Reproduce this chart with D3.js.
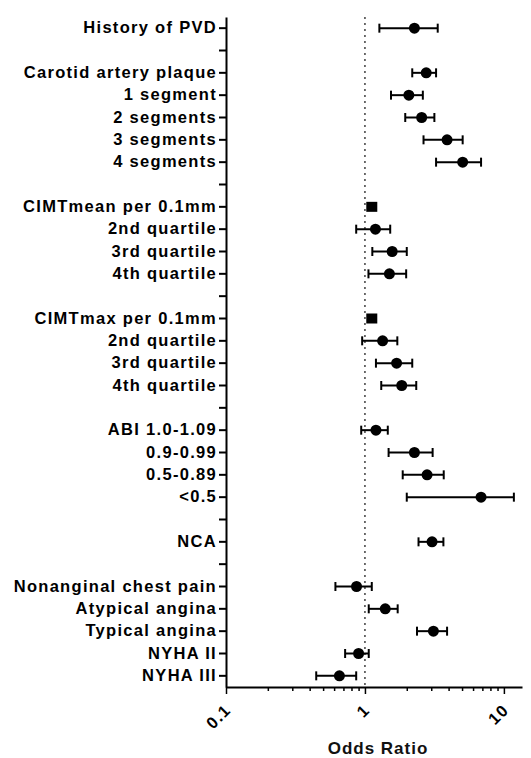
<!DOCTYPE html>
<html>
<head>
<meta charset="utf-8">
<script src="https://cdn.jsdelivr.net/npm/d3@7"></script>
<style>
  body { margin: 0; background: #fff; }
  svg { display: block; font-family: "Liberation Sans", Arial, sans-serif; }
</style>
</head>
<body>
<svg id="chart" width="531" height="758"></svg>
<script>
// rows from top to bottom, "" = spacer row (tick only)
var labels = ["History of PVD", "",
  "Carotid artery plaque", "1 segment", "2 segments", "3 segments", "4 segments", "",
  "CIMTmean per 0.1mm", "2nd quartile", "3rd quartile", "4th quartile", "",
  "CIMTmax per 0.1mm", "2nd quartile", "3rd quartile", "4th quartile", "",
  "ABI 1.0-1.09", "0.9-0.99", "0.5-0.89", "<0.5", "",
  "NCA", "",
  "Nonanginal chest pain", "Atypical angina", "Typical angina", "NYHA II", "NYHA III"]
var oddsRatio = [2.27, null, 2.76, 2.07, 2.56, 3.90, 5.05, null,
  1.12, 1.19, 1.57, 1.50, null,
  1.12, 1.34, 1.69, 1.84, null,
  1.20, 2.27, 2.80, 6.85, null,
  3.04, null,
  0.87, 1.40, 3.11, 0.90, 0.655]
var ciLow = [1.27, null, 2.19, 1.54, 1.95, 2.64, 3.25, null,
  1.10, 0.865, 1.13, 1.06, null,
  1.10, 0.955, 1.20, 1.31, null,
  0.94, 1.48, 1.87, 2.0, null,
  2.43, null,
  0.613, 1.065, 2.37, 0.72, 0.446]
var ciHigh = [3.34, null, 3.25, 2.61, 3.16, 5.05, 6.85, null,
  1.14, 1.52, 2.0, 1.98, null,
  1.14, 1.71, 2.19, 2.34, null,
  1.46, 3.07, 3.69, 11.8, null,
  3.67, null,
  1.12, 1.72, 3.90, 1.065, 0.865]
var markerShape = ["circle", null, "circle", "circle", "circle", "circle", "circle", null,
  "square", "circle", "circle", "circle", null,
  "square", "circle", "circle", "circle", null,
  "circle", "circle", "circle", "circle", null,
  "circle", null,
  "circle", "circle", "circle", "circle", "circle"]
var xTickLabels = [0.1, 1, 10]

var svg = d3.select("#chart")
var plotLeft = 226, plotRight = 522, plotTop = 17, plotBottom = 687
var fontFam = '"Liberation Sans", Arial, sans-serif'

var x = d3.scaleLog().domain([0.1, 13.5]).range([plotLeft, plotRight])
var y = d3.scaleBand().domain(d3.range(labels.length)).range([plotTop, plotBottom])
var yc = function(i){ return y(i) + y.bandwidth() / 2 }

var rows = labels.map(function(l, i){
  return {label: l, or: oddsRatio[i], lo: ciLow[i], hi: ciHigh[i], shape: markerShape[i], i: i}
}).filter(function(d){ return d.or != null })

// reference line at OR = 1
svg.append("line")
  .attr("x1", x(1)).attr("x2", x(1))
  .attr("y1", plotTop).attr("y2", plotBottom)
  .attr("stroke", "#333").attr("stroke-width", 1.4)
  .attr("stroke-dasharray", "2,4")

// y axis
var yAxis = svg.append("g")
  .attr("transform", "translate(" + plotLeft + ",0)")
  .call(d3.axisLeft(y).tickSize(7).tickSizeOuter(0).tickPadding(2)
    .tickFormat(function(i){ return labels[i] }))
yAxis.attr("font-family", fontFam)
yAxis.select(".domain").attr("stroke", "#000").attr("stroke-width", 2)
yAxis.selectAll(".tick line").attr("stroke", "#000").attr("stroke-width", 2)
yAxis.selectAll(".tick text")
  .attr("fill", "#000")
  .style("font-size", "16.5px")
  .style("font-weight", "bold")
  .style("letter-spacing", "1.3px")

// x axis
var xAxis = svg.append("g")
  .attr("transform", "translate(0," + plotBottom + ")")
  .call(d3.axisBottom(x).tickSizeOuter(0).tickFormat(""))
xAxis.select(".domain").attr("stroke", "#000").attr("stroke-width", 2)
xAxis.selectAll(".tick line")
  .attr("stroke", "#000").attr("stroke-width", 1.5)
  .attr("y2", function(d){ return xTickLabels.indexOf(d) >= 0 ? 7 : 4 })

svg.append("g").selectAll("text")
  .data(xTickLabels).enter()
  .append("text")
  .attr("text-anchor", "end")
  .attr("transform", function(d){ return "translate(" + (x(d) + 6) + "," + (plotBottom + 24) + ") rotate(-45)" })
  .style("font-size", "16.5px")
  .style("font-weight", "bold")
  .style("letter-spacing", "1.3px")
  .text(function(d){ return d })

svg.append("text")
  .attr("x", 378).attr("y", 754)
  .attr("text-anchor", "middle")
  .style("font-size", "17px")
  .style("font-weight", "bold")
  .style("letter-spacing", "1px")
  .attr("fill", "#111")
  .text("Odds Ratio")

// error bars
var g = svg.append("g")
var bars = g.selectAll(".ci").data(rows).enter().append("g").attr("class", "ci")
bars.append("line")
  .attr("x1", function(d){ return x(d.lo) }).attr("x2", function(d){ return x(d.hi) })
  .attr("y1", function(d){ return yc(d.i) }).attr("y2", function(d){ return yc(d.i) })
  .attr("stroke", "#000").attr("stroke-width", 2)
bars.filter(function(d){ return d.shape == "circle" }).each(function(d){
  var el = d3.select(this)
  ;[d.lo, d.hi].forEach(function(v){
    el.append("line")
      .attr("x1", x(v)).attr("x2", x(v))
      .attr("y1", yc(d.i) - 4.5).attr("y2", yc(d.i) + 4.5)
      .attr("stroke", "#000").attr("stroke-width", 2)
  })
})

// markers
g.selectAll(".pt").data(rows.filter(function(d){ return d.shape == "circle" })).enter()
  .append("circle")
  .attr("cx", function(d){ return x(d.or) })
  .attr("cy", function(d){ return yc(d.i) })
  .attr("r", 5.5)
  .attr("fill", "#000")
g.selectAll(".sq").data(rows.filter(function(d){ return d.shape == "square" })).enter()
  .append("rect")
  .attr("x", function(d){ return x(d.or) - 5.5 })
  .attr("y", function(d){ return yc(d.i) - 5 })
  .attr("width", 11).attr("height", 10)
  .attr("fill", "#000")
</script>
</body>
</html>
